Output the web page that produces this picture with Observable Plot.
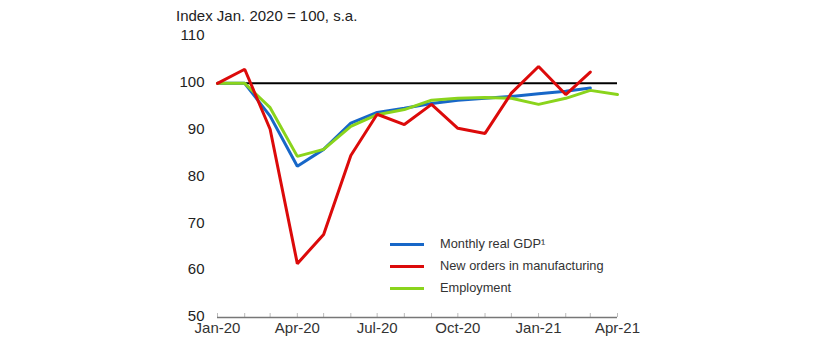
<!DOCTYPE html>
<html><head><meta charset="utf-8">
<script src="https://cdn.jsdelivr.net/npm/d3@7"></script>
<script src="https://cdn.jsdelivr.net/npm/@observablehq/plot@0.6"></script>
<style>
body{margin:0;background:#fff;font-family:"Liberation Sans",Arial,sans-serif;}
#wrap{position:relative;width:816px;height:352px;}
#title{position:absolute;left:176px;top:7px;font-size:15px;color:#222;}
.leg{position:absolute;left:390px;font-size:12.8px;color:#333;}
.leg span{display:inline-block;width:34px;height:3px;vertical-align:middle;margin-right:16px;}
</style></head>
<body><div id="wrap"><div id="title">Index Jan. 2020 = 100, s.a.</div><div id="chart"></div><div id="legend"></div></div>
<script>
const months = ["2020-01","2020-02","2020-03","2020-04","2020-05","2020-06","2020-07","2020-08","2020-09","2020-10","2020-11","2020-12","2021-01","2021-02","2021-03","2021-04"];
const gdp = [100,100,93,82.3,85.9,91.5,93.8,94.7,95.7,96.4,96.8,97.2,97.8,98.3,99.0,null];
const orders = [100,103,90.2,61.5,67.7,84.6,93.4,91.2,95.5,90.4,89.3,97.9,103.6,97.6,102.4,null];
const employment = [100,100,94.8,84.4,85.9,90.8,93.3,94.4,96.4,96.8,97.0,96.8,95.5,96.8,98.5,97.6];
const seriesNames = ["Monthly real GDP\u00b9","New orders in manufacturing","Employment"];
const colors = ["#1767c8","#dc0a0a","#8ad41c"];
const yTicks = [50,60,70,80,90,100,110];
const xTickLabels = ["Jan-20","Apr-20","Jul-20","Oct-20","Jan-21","Apr-21"];

const parse = d3.utcParse("%Y-%m");
const dates = months.map(parse);
const allSeries = [gdp, orders, employment];
const rows = [];
allSeries.forEach((vals, i) => vals.forEach((v, j) => { if (v != null) rows.push({date: dates[j], value: v, series: seriesNames[i]}); }));
const labelDates = dates.filter((d, i) => i % 3 === 0);

const chart = Plot.plot({
  width: 816, height: 352,
  marginLeft: 217, marginRight: 199, marginTop: 36, marginBottom: 35,
  style: {fontFamily: "'Liberation Sans', Arial, sans-serif", fontSize: "15px", color: "#222", background: "transparent"},
  x: {type: "utc", domain: [dates[0], dates[dates.length - 1]]},
  y: {domain: [50, 110]},
  marks: [
    Plot.axisY({ticks: yTicks, tickSize: 0, tickPadding: 13, label: null, fill: "#222", fontSize: 15, dy: -1}),
    Plot.axisX({ticks: dates, tickSize: 4, tickFormat: () => "", dy: -4, stroke: "#bbb", label: null}),
    Plot.axisX({ticks: labelDates, tickSize: 0, tickPadding: 5, fontSize: 15, tickFormat: d => xTickLabels[labelDates.findIndex(t => +t === +d)], label: null, fill: "#333"}),
    Plot.ruleY([50], {stroke: "#777", strokeWidth: 1.5}),
    Plot.ruleY([100], {stroke: "#000", strokeWidth: 2}),
    ...[0, 2, 1].map(i => Plot.line(rows.filter(r => r.series === seriesNames[i]), {x: "date", y: "value", stroke: colors[i], strokeWidth: 3, strokeLinejoin: "miter"}))
  ]
});
document.getElementById("chart").appendChild(chart);

const legend = document.getElementById("legend");
const legTops = [236, 258, 280];
seriesNames.forEach((n, i) => {
  const d = document.createElement("div");
  d.className = "leg";
  d.style.top = legTops[i] + "px";
  d.innerHTML = `<span style="background:${colors[i]}"></span>${n}`;
  legend.appendChild(d);
});
</script></body></html>
